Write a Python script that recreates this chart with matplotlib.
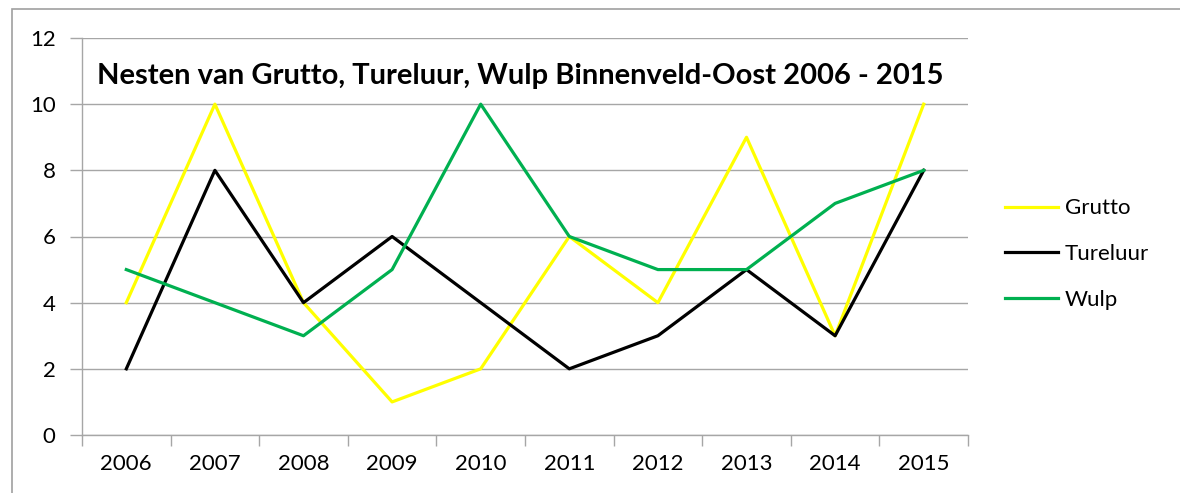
import matplotlib
matplotlib.use("Agg")
import matplotlib.pyplot as plt
from matplotlib.patches import Rectangle
import numpy as np

plt.rcParams['font.family'] = ['Lato', 'DejaVu Sans']

years = ["2006", "2007", "2008", "2009", "2010", "2011", "2012", "2013", "2014", "2015"]
grutto = [4, 10, 4, 1, 2, 6, 4, 9, 3, 10]
tureluur = [2, 8, 4, 6, 4, 2, 3, 5, 3, 8]
wulp = [5, 4, 3, 5, 10, 6, 5, 5, 7, 8]
title = "Nesten van Grutto, Tureluur, Wulp Binnenveld-Oost 2006 - 2015"

W, H = 1180, 493
fig = plt.figure(figsize=(W / 100, H / 100), dpi=100)
ax = fig.add_axes([82 / W, 1 - 435 / H, (968 - 82) / W, (435 - 38) / H])

grid_c = "#A6A6A6"
x = np.arange(len(years))
ax.plot(x, grutto, color="#FFFF00", lw=2.3, label="Grutto", zorder=3)
ax.plot(x, tureluur, color="#000000", lw=2.3, label="Tureluur", zorder=3)
ax.plot(x, wulp, color="#00B050", lw=2.3, label="Wulp", zorder=3)

ax.set_xlim(-0.5, len(years) - 0.5)
ax.set_ylim(0, 12)
ax.set_yticks(range(0, 13, 2))
ax.yaxis.grid(True, color=grid_c, lw=1)
ax.set_axisbelow(True)

ax.set_xticks(np.arange(-0.5, len(years), 1.0))
ax.set_xticklabels([])
ax.set_xticks(x, minor=True)
ax.set_xticklabels(years, minor=True)
ax.tick_params(axis="x", which="major", length=8, color=grid_c, width=1)
ax.tick_params(axis="x", which="minor", length=0, pad=14, labelsize=16)
ax.tick_params(axis="y", length=9, color=grid_c, width=1, pad=10, labelsize=16)

for s in ["top", "right"]:
    ax.spines[s].set_visible(False)
for s in ["left", "bottom"]:
    ax.spines[s].set_color(grid_c)
    ax.spines[s].set_linewidth(1)

ax.text(0.495, 0.905, title, transform=ax.transAxes, ha="center", va="center",
        fontsize=21, fontweight="bold")

leg = fig.legend(loc="center left", bbox_to_anchor=(985 / W, 1 - 254 / H),
                 frameon=False, fontsize=16, handlelength=2.4, handletextpad=0.3,
                 labelspacing=1.15)

fig.patches.append(Rectangle((12 / W, -0.1), 1.2, 1.1 - 9 / H, transform=fig.transFigure,
                             fill=False, edgecolor="#A0A0A0", lw=1.2))

fig.savefig("out.png", dpi=100)
